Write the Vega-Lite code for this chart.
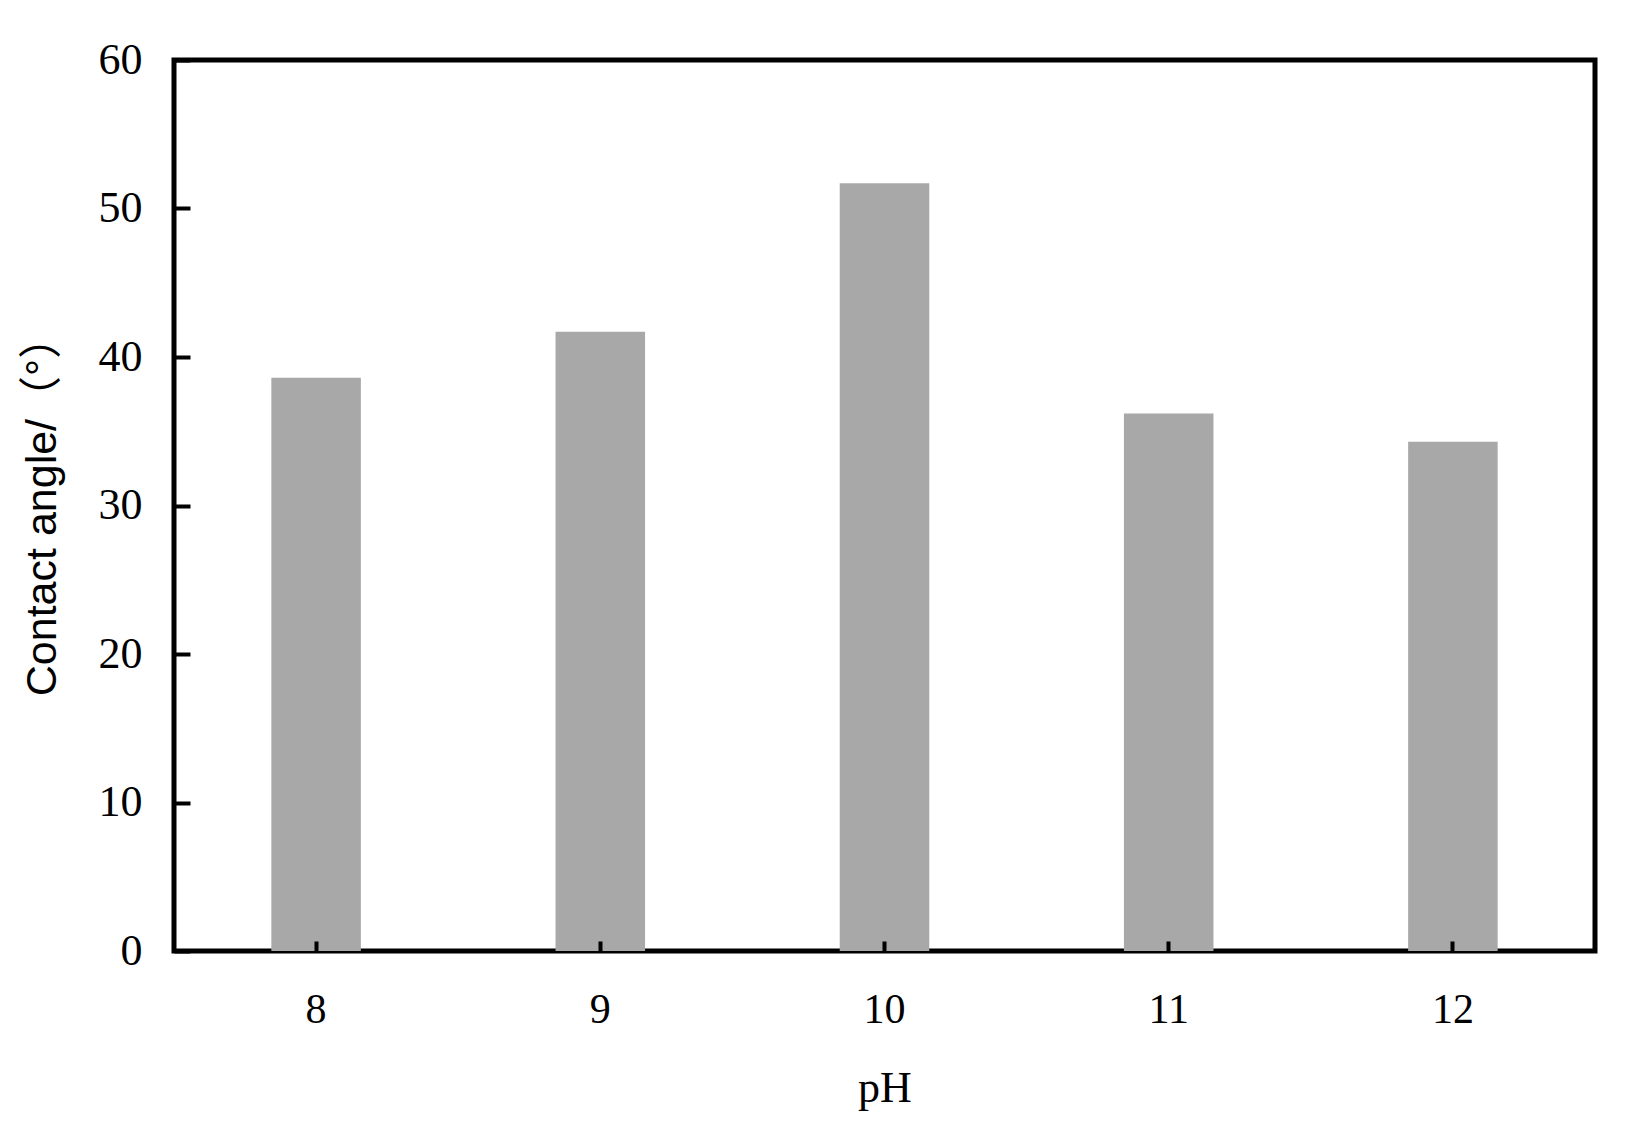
{
  "$schema": "https://vega.github.io/schema/vega-lite/v6.json",
  "autosize": {"type": "none"},
  "width": 1421,
  "height": 891,
  "padding": {"left": 174, "top": 60, "right": 51, "bottom": 179},
  "background": "white",
  "config": {
    "view": {"stroke": "black", "strokeWidth": 5},
    "font": "Liberation Serif"
  },
  "data": {
    "values": [
      {"pH": "8", "angle": 38.6},
      {"pH": "9", "angle": 41.7},
      {"pH": "10", "angle": 51.7},
      {"pH": "11", "angle": 36.2},
      {"pH": "12", "angle": 34.3}
    ]
  },
  "mark": {"type": "bar", "color": "#a8a8a8"},
  "encoding": {
    "x": {
      "field": "pH",
      "type": "ordinal",
      "sort": null,
      "scale": {"paddingInner": 0.685, "paddingOuter": 0.3425},
      "axis": {
        "zindex": 1,
        "offset": -10,
        "title": "pH",
        "titleFont": "Liberation Serif",
        "titleFontSize": 44,
        "titleFontWeight": "normal",
        "titleColor": "black",
        "titlePadding": 36,
        "labelAngle": 0,
        "labelFont": "Liberation Serif",
        "labelFontSize": 42,
        "labelColor": "black",
        "labelPadding": 38,
        "domain": false,
        "ticks": true,
        "tickSize": 10,
        "tickWidth": 4,
        "tickColor": "black",
        "grid": false
      }
    },
    "y": {
      "field": "angle",
      "type": "quantitative",
      "scale": {"domain": [0, 60], "nice": false},
      "axis": {
        "zindex": 1,
        "offset": -16,
        "title": "Contact angle/（°）",
        "titleFont": "Liberation Sans, Noto Sans CJK SC",
        "titleFontSize": 43,
        "titleFontWeight": "normal",
        "titleColor": "black",
        "titlePadding": 34,
        "labelFont": "Liberation Serif",
        "labelFontSize": 44,
        "labelColor": "black",
        "labelPadding": 32,
        "values": [0, 10, 20, 30, 40, 50, 60],
        "domain": false,
        "ticks": true,
        "tickSize": 16,
        "tickWidth": 4,
        "tickColor": "black",
        "grid": false
      }
    }
  }
}
